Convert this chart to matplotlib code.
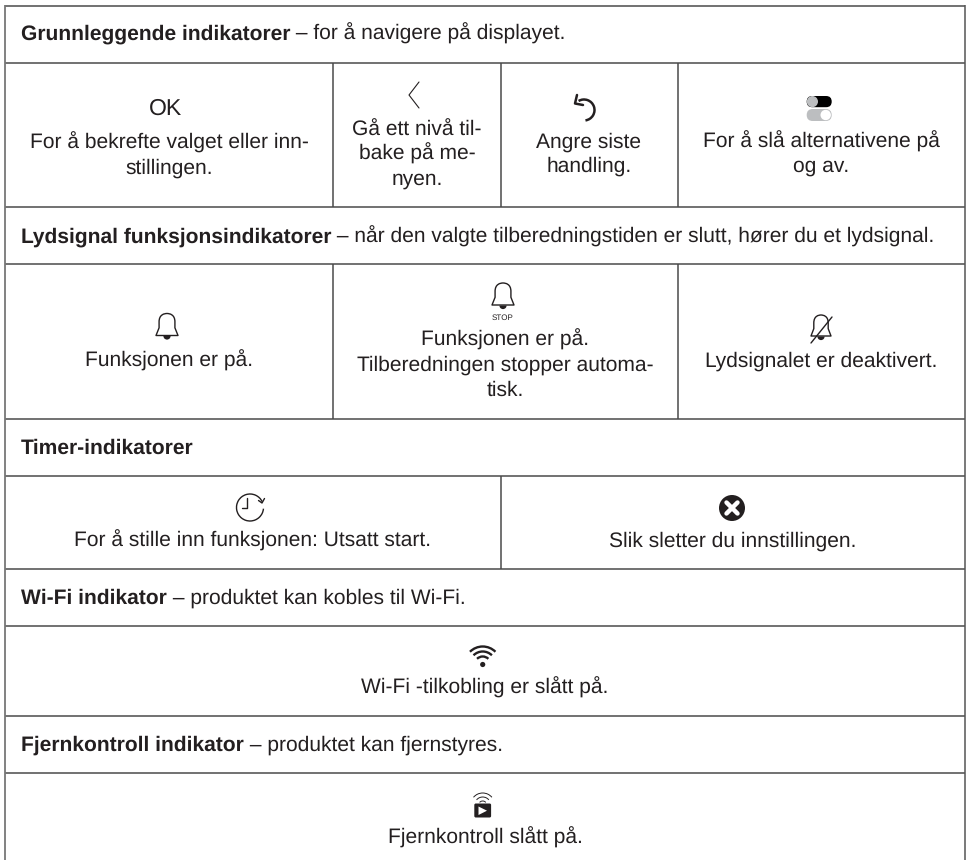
import numpy as np
import matplotlib
matplotlib.use("Agg")
import matplotlib.pyplot as plt
from matplotlib.patches import Circle, FancyBboxPatch, Arc, Wedge, Polygon, PathPatch
from matplotlib.path import Path

plt.rcParams['font.family'] = ['Liberation Sans', 'DejaVu Sans']
plt.rcParams['text.hinting'] = 'no_hinting'
plt.rcParams['text.hinting_factor'] = 1
INK = '#231f20'
LINE = '#4a4a4a'
GREY = '#bcbec0'
FS = 15.4

rows_y = [5.5, 62.5, 206.5, 263.5, 418.5, 476, 569, 626, 716, 773]
left_x, right_x = 5, 965
vlines = [(333, 62.5, 206.5), (500.7, 62.5, 206.5), (678, 62.5, 206.5),
          (333, 263.5, 418.5), (678.5, 263.5, 418.5), (500.6, 476, 569)]

headings = [
    ("Grunnleggende indikatorer", " – for å navigere på displayet.", 40),
    ("Lydsignal funksjonsindikatorer", " – når den valgte tilberedningstiden er slutt, hører du et lydsignal.", 242.5),
    ("Timer-indikatorer", "", 453.5),
    ("Wi-Fi indikator", " – produktet kan kobles til Wi-Fi.", 604),
    ("Fjernkontroll indikator", " – produktet kan fjernstyres.", 751),
]
cells = [
    (169, 149, "For å bekrefte valget eller inn-"), (169, 173.5, "stillingen."),
    (417, 135.5, "Gå ett nivå til-"), (417, 160, "bake på me-"), (417, 185, "nyen."),
    (589, 147.5, "Angre siste"), (589, 172, "handling."),
    (821.5, 147.5, "For å slå alternativene på"), (821.5, 172, "og av."),
    (169, 367, "Funksjonen er på."),
    (505, 346, "Funksjonen er på."), (505, 371, "Tilberedningen stopper automa-"), (505, 395.5, "tisk."),
    (821.5, 367, "Lydsignalet er deaktivert."),
    (253, 547, "For å stille inn funksjonen: Utsatt start."),
    (733, 547, "Slik sletter du innstillingen."),
    (485, 694, "Wi-Fi -tilkobling er slått på."),
    (485, 843.5, "Fjernkontroll slått på."),
]

fig = plt.figure(figsize=(9.7, 8.6), dpi=100, facecolor='white')
ax = fig.add_axes([0, 0, 1, 1])
ax.set_xlim(0, 970)
ax.set_ylim(860, 0)
ax.axis('off')

for y in rows_y:
    ax.plot([left_x, right_x], [y, y], color=LINE, lw=1.1, solid_capstyle='butt')
ax.plot([left_x, left_x], [5, 860], color='#777777', lw=1.3, solid_capstyle='butt')
ax.plot([right_x, right_x], [5, 860], color='#555555', lw=1.1, solid_capstyle='butt')
for x, y0, y1 in vlines:
    ax.plot([x, x], [y0, y1], color=LINE, lw=1.1, solid_capstyle='butt')

fig.canvas.draw()
rend = fig.canvas.get_renderer()
for bold, rest, y in headings:
    t = ax.text(21, y, bold, fontsize=FS, fontweight='bold', color=INK, va='baseline', ha='left')
    if rest:
        bb = t.get_window_extent(rend)
        ax.text(bb.x1, y, rest, fontsize=FS, color=INK, va='baseline', ha='left')
for x, y, s in cells:
    ax.text(x, y, s, fontsize=FS, color=INK, va='baseline', ha='center')


def stroke(xs, ys, lw=1.0, color=INK):
    ax.plot(xs, ys, color=color, lw=lw, solid_capstyle='round', solid_joinstyle='round')


def bell(cx, base, h=22, w=22, lw=1.0):
    top = base - h
    hw = w / 2
    dome = w * 0.36
    verts = [(cx - hw, base), (cx - dome, base - h*0.35), (cx - dome, base - h*0.62),
             (cx - dome, top + 1), (cx - w*0.12, top), (cx, top),
             (cx + w*0.12, top), (cx + dome, top + 1), (cx + dome, base - h*0.62),
             (cx + dome, base - h*0.35), (cx + hw, base), (cx - hw, base)]
    codes = [Path.MOVETO, Path.LINETO, Path.LINETO,
             Path.CURVE4, Path.CURVE4, Path.CURVE4, Path.CURVE4, Path.CURVE4, Path.CURVE4,
             Path.LINETO, Path.LINETO, Path.CLOSEPOLY]
    ax.add_patch(PathPatch(Path(verts, codes), fc='none', ec=INK, lw=lw, joinstyle='round'))
    ax.add_patch(Wedge((cx, base + 0.5), 3.6, 0, 180, fc=INK, ec='none'))


# OK
ax.text(166, 115, "OK", fontsize=16.5, color=INK, ha='center', va='baseline')

# chevron
stroke([419, 409, 419], [82, 95, 108], lw=0.8)

# undo
ax.add_patch(Arc((584, 110), 21, 21, angle=0, theta1=-121, theta2=82, lw=1.8, color=INK))
stroke([577, 575, 583], [95, 103.5, 105], lw=1.8)

# toggles
ax.add_patch(FancyBboxPatch((806.7, 96), 25, 11.2, boxstyle="round,pad=0,rounding_size=5.6",
                            fc='black', ec='none'))
ax.add_patch(Circle((812.4, 101.6), 5.6, fc=GREY, ec='none'))
ax.add_patch(FancyBboxPatch((806.7, 109), 25, 12, boxstyle="round,pad=0,rounding_size=6",
                            fc=GREY, ec='none'))
ax.add_patch(Circle((825.7, 115), 5.2, fc='white', ec='none'))

# bells
bell(167, 335.5)
bell(503, 305)
ax.text(503, 319.5, "STOP", fontsize=5.5, color=INK, ha='center', va='baseline')

# muted bell
bell(821, 336, h=21, w=20)
stroke([811, 832], [343, 317], lw=1.0)

# clock
ax.add_patch(Arc((250, 507.5), 27, 27, angle=0, theta1=5, theta2=335, lw=1.0, color=INK))
stroke([247, 247, 242], [498, 508.3, 508.3], lw=1.0)
stroke([258.5, 262, 264.5], [500.5, 503, 498.5], lw=1.0)

# cancel X
ax.add_patch(Circle((732, 508), 13, fc=INK, ec='none'))
stroke([726.5, 737.5], [502.5, 513.5], lw=3.2, color='white')
stroke([726.5, 737.5], [513.5, 502.5], lw=3.2, color='white')

# wifi
wc, wy = 482.7, 664.5
ax.add_patch(Circle((wc, wy), 2.6, fc=INK, ec='none'))
for r, lw in [(8, 1.7), (13, 1.7), (18, 1.7)]:
    ax.add_patch(Arc((wc, wy), 2*r, 2*r, angle=0, theta1=-135, theta2=-45, lw=lw, color=INK))

# remote
rc, ry = 482.7, 805
for r, lw in [(4, 0.7), (8, 0.7), (12, 0.7)]:
    ax.add_patch(Arc((rc, ry), 2*r, 2*r, angle=0, theta1=-140, theta2=-40, lw=lw, color=INK))
ax.add_patch(FancyBboxPatch((474.3, 803.5), 16.8, 14, boxstyle="round,pad=0,rounding_size=1.5",
                            fc=INK, ec='none'))
ax.add_patch(Polygon([(478.5, 806.5), (478.5, 815), (487, 810.7)], fc='white', ec='none'))

fig.savefig('out.png', dpi=100, facecolor='white')
